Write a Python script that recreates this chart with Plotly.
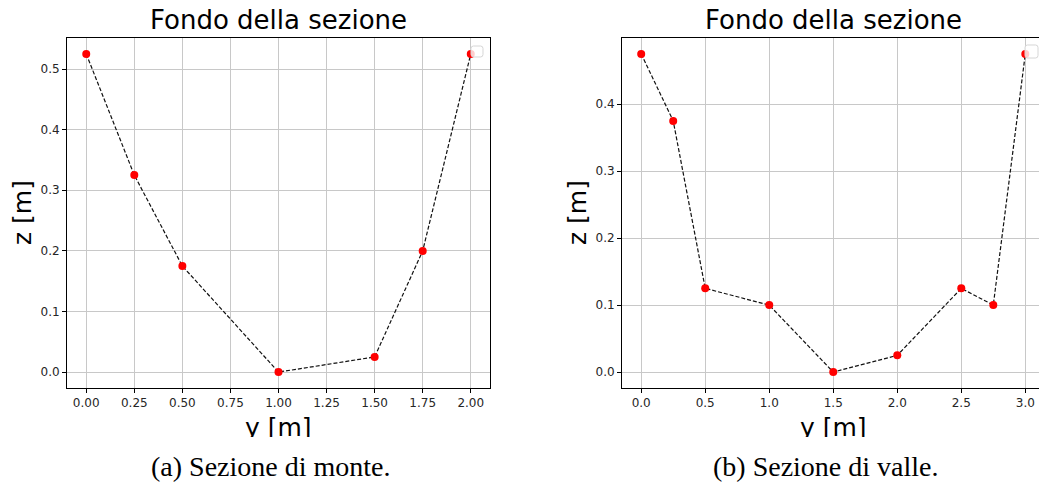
import plotly.graph_objects as go

# ---- data ----
y_monte = [0.0, 0.25, 0.5, 1.0, 1.5, 1.75, 2.0]
z_monte = [0.525, 0.325, 0.175, 0.0, 0.025, 0.2, 0.525]
y_valle = [0.0, 0.25, 0.5, 1.0, 1.5, 2.0, 2.5, 2.75, 3.0]
z_valle = [0.475, 0.375, 0.125, 0.1, 0.0, 0.025, 0.125, 0.1, 0.475]
xticks_monte = [0.0, 0.25, 0.5, 0.75, 1.0, 1.25, 1.5, 1.75, 2.0]
xticks_valle = [0.0, 0.5, 1.0, 1.5, 2.0, 2.5, 3.0]
yticks_monte = [0.0, 0.1, 0.2, 0.3, 0.4, 0.5]
yticks_valle = [0.0, 0.1, 0.2, 0.3, 0.4]
title_text = "Fondo della sezione"
xlabel = "y [m]"
ylabel = "z [m]"
captions = ["(a) Sezione di monte.", "(b) Sezione di valle."]

W, H = 1039, 487
def px(x):
    return x / W
def py(y):
    return 1 - y / H

fig = go.Figure()
line_style = dict(color="#111111", width=1.2, dash="4px,2px")
marker_style = dict(color="red", size=8)
fig.add_trace(go.Scatter(x=y_monte, y=z_monte, mode="lines+markers", line=line_style,
                         marker=marker_style, xaxis="x", yaxis="y", showlegend=False))
fig.add_trace(go.Scatter(x=y_valle, y=z_valle, mode="lines+markers", line=line_style,
                         marker=marker_style, xaxis="x2", yaxis="y2", showlegend=False))

tickfont = dict(family="DejaVu Sans", size=12, color="#262626")
common_ax = dict(showgrid=True, gridcolor="#c8c8c8", gridwidth=1, zeroline=False,
                 showline=True, linecolor="black", linewidth=1, ticks="outside",
                 ticklen=4, tickcolor="black", tickwidth=1, tickfont=tickfont)

ydom = [py(388), py(38)]
fig.update_layout(
    width=W, height=H, margin=dict(l=0, r=0, t=0, b=0),
    paper_bgcolor="white", plot_bgcolor="white",
    showlegend=False,
    xaxis=dict(domain=[px(67), px(490)], range=[-0.1, 2.1], tickvals=xticks_monte,
               tickformat=".2f", mirror=True, anchor="y", **common_ax),
    yaxis=dict(domain=ydom, range=[-0.02625, 0.55125], tickvals=yticks_monte,
               tickformat=".1f", mirror=True, anchor="x", **common_ax),
    xaxis2=dict(domain=[px(622), 1.0], range=[-0.15, 3.107], tickvals=xticks_valle,
                tickformat=".1f", mirror=True, anchor="y2", **common_ax),
    yaxis2=dict(domain=ydom, range=[-0.02375, 0.49875], tickvals=yticks_valle,
                tickformat=".1f", mirror=False, anchor="x2", **common_ax),
)

ann = []
label_font = dict(family="DejaVu Sans", size=25, color="black")
title_font = dict(family="DejaVu Sans", size=26, color="black")
for cx in (278, 833):
    ann.append(dict(text=title_text, x=px(cx), y=py(20), xref="paper", yref="paper",
                    xanchor="center", yanchor="middle", showarrow=False, font=title_font))
    ann.append(dict(text=xlabel, x=px(cx), y=py(427), xref="paper", yref="paper",
                    xanchor="center", yanchor="middle", showarrow=False, font=label_font))
for cx in (22, 577):
    ann.append(dict(text=ylabel, x=px(cx), y=py(213), xref="paper", yref="paper",
                    xanchor="center", yanchor="middle", showarrow=False, textangle=-90,
                    font=label_font))
# white band that crops the bottom of the axis labels
ann.append(dict(text=" ", x=0.5, y=py(437), xref="paper", yref="paper",
                xanchor="center", yanchor="top", showarrow=False, width=W + 20, height=60,
                bgcolor="white", borderpad=0, borderwidth=0))
cap_font = dict(family="Liberation Serif", size=28, color="black")
for cx, cap in zip((270, 825), captions):
    ann.append(dict(text=cap, x=px(cx), y=py(466), xref="paper", yref="paper",
                    xanchor="center", yanchor="middle", showarrow=False, font=cap_font))
fig.update_layout(annotations=ann)

# empty legend boxes
def rounded(x0, y0, x1, y1, r=2.5):
    X = lambda v: f"{px(v):.5f}"
    Y = lambda v: f"{py(v):.5f}"
    return (f"M {X(x0+r)},{Y(y0)} L {X(x1-r)},{Y(y0)} Q {X(x1)},{Y(y0)} {X(x1)},{Y(y0+r)} "
            f"L {X(x1)},{Y(y1-r)} Q {X(x1)},{Y(y1)} {X(x1-r)},{Y(y1)} "
            f"L {X(x0+r)},{Y(y1)} Q {X(x0)},{Y(y1)} {X(x0)},{Y(y1-r)} "
            f"L {X(x0)},{Y(y0+r)} Q {X(x0)},{Y(y0)} {X(x0+r)},{Y(y0)} Z")
for box in ((471, 46, 483, 57), (1025, 45, 1038, 58)):
    fig.add_shape(type="path", path=rounded(*box), xref="paper", yref="paper",
                  fillcolor="rgba(255,255,255,0.8)", line=dict(color="#d6d6d6", width=1),
                  layer="above")

fig.write_html("out.html")
